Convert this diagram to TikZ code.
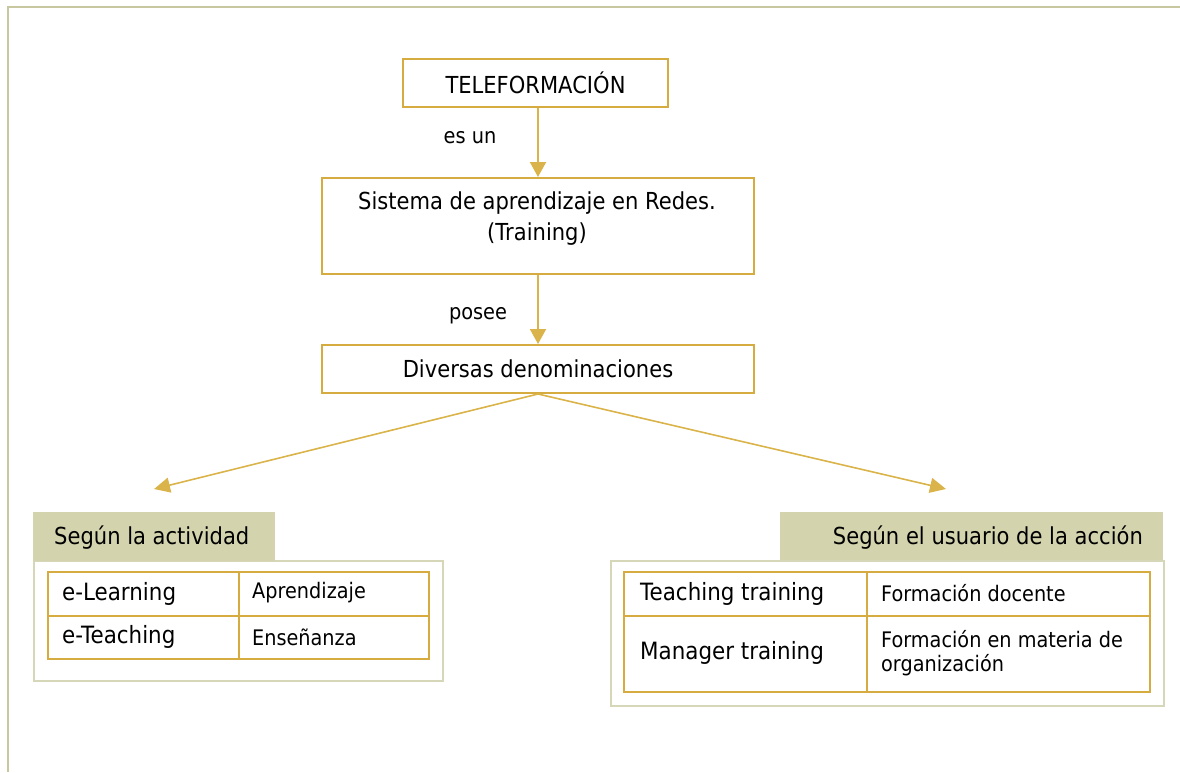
\documentclass[tikz,border=0pt]{standalone}
\usepackage{fontspec}
\setmainfont{DejaVu Sans}[FakeStretch=0.9]
\usetikzlibrary{arrows.meta}
\definecolor{gold}{RGB}{214,172,64}
\definecolor{goldarr}{RGB}{218,180,74}
\definecolor{framec}{RGB}{200,200,160}
\definecolor{headfill}{RGB}{211,211,174}
\definecolor{grpc}{RGB}{214,214,184}
\tikzset{
  box/.style={draw=gold, line width=2pt, inner sep=0pt},
  boxfont/.style={font=\fontsize{23.4}{31}\selectfont},
  arr/.style={draw=goldarr, line width=2pt, -{Triangle[width=16pt,length=15pt]}},
  arrd/.style={draw=goldarr, line width=1.6pt, -{Triangle[width=15pt,length=16pt]}},
  lbl/.style={font=\fontsize{21.5}{25}\selectfont, inner sep=0pt},
  grp/.style={draw=grpc, line width=2pt, inner sep=0pt, anchor=north west},
  head/.style={fill=headfill, inner sep=0pt, anchor=north west},
  htext/.style={font=\fontsize{23.4}{27}\selectfont, inner sep=0pt},
  cell/.style={draw=gold, line width=2pt, anchor=north west, inner xsep=0pt, inner ysep=0pt},
  ctext/.style={font=\fontsize{23.8}{28}\selectfont, inner sep=0pt, anchor=west},
  stext/.style={font=\fontsize{21.4}{24.5}\selectfont, inner sep=0pt, anchor=west, align=left},
}
\begin{document}
\begin{tikzpicture}[x=1pt,y=-1pt]
\useasboundingbox (0,0) rectangle (1180,772);
\draw[framec, line width=2.2pt] (8,772) -- (8,7) -- (1180,7);

% main boxes
\node[box, boxfont, minimum width=265pt, minimum height=48pt] (tele) at (535.5,83) {TELEFORMACIÓN};
\node[box, minimum width=432pt, minimum height=96pt] (sis) at (538,226) {};
\node[boxfont, align=center, inner sep=0pt] (sist) at (537,219) {Sistema de aprendizaje en Redes.\\(Training)};
\node[box, boxfont, minimum width=432pt, minimum height=48pt] (div) at (538,369) {Diversas denominaciones};

\draw[arr] (tele.south -| sis.north) -- (sis.north);
\draw[arr] (sis.south) -- (div.north);
\node[lbl] (esun) at (470,138) {es un};
\node[lbl] (posee) at (478,316) {posee};

\coordinate (la) at (154,489);
\coordinate (ra) at (946,489);
\draw[arrd] (div.south) -- (la);
\draw[arrd] (div.south) -- (ra);

% left group
\node[grp, minimum width=409pt, minimum height=120pt] (lg) at (33,560) {};
\node[head, minimum width=242pt, minimum height=49pt] (lh) at (33,512) {};
\node[htext, anchor=west] (lht) at (54,538) {Según la actividad};
\node[cell, minimum width=191pt, minimum height=44pt] (l11) at (47,571) {};
\node[cell, minimum width=190pt, minimum height=44pt] (l12) at (238,571) {};
\node[cell, minimum width=191pt, minimum height=43pt] (l21) at (47,615) {};
\node[cell, minimum width=190pt, minimum height=43pt] (l22) at (238,615) {};
\node[ctext] (t11) at (62,594) {e-Learning};
\node[stext] (t12) at (252,593) {Aprendizaje};
\node[ctext] (t21) at (62,637) {e-Teaching};
\node[stext] (t22) at (252,637) {Enseñanza};

% right group
\node[grp, minimum width=553pt, minimum height=145pt] (rg) at (610,560) {};
\node[head, minimum width=383pt, minimum height=48pt] (rh) at (780,512) {};
\node[htext, anchor=east] (rht) at (1143,538) {Según el usuario de la acción};
\node[cell, minimum width=243pt, minimum height=44pt] (r11) at (623,571) {};
\node[cell, minimum width=283pt, minimum height=44pt] (r12) at (866,571) {};
\node[cell, minimum width=243pt, minimum height=76pt] (r21) at (623,615) {};
\node[cell, minimum width=283pt, minimum height=76pt] (r22) at (866,615) {};
\node[ctext] (u11) at (640,594) {Teaching training};
\node[stext] (u12) at (881,593) {Formación docente};
\node[ctext] (u21) at (640,653) {Manager training};
\node[stext] (u22) at (881,653) {Formación en materia de\\organización};
\end{tikzpicture}
\end{document}
